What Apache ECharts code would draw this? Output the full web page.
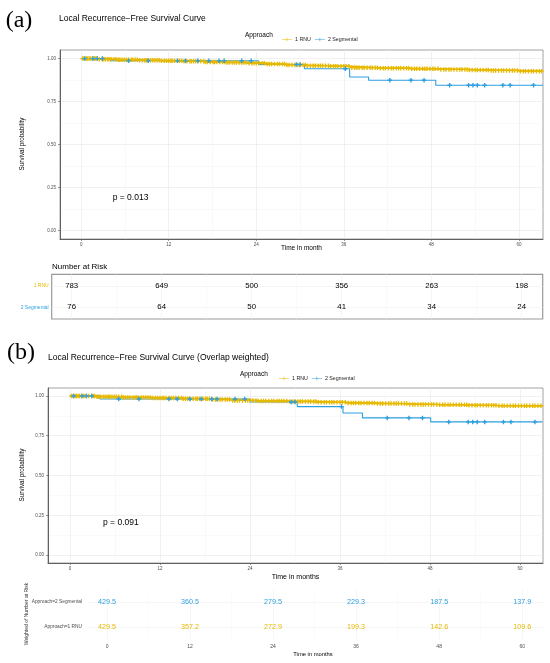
<!DOCTYPE html>
<html>
<head>
<meta charset="utf-8">
<script src="https://cdn.jsdelivr.net/npm/echarts@6/dist/echarts.min.js"></script>
<style>
html,body{margin:0;padding:0;background:#fff;}
#main{width:550px;height:663px;}
</style>
</head>
<body>
<div id="main"></div>
<script>
var months = [0, 12, 24, 36, 48, 60];
var minorMonths = [6, 18, 30, 42, 54];
var probTicks = [0, 0.25, 0.5, 0.75, 1];
var probMinor = [0.125, 0.375, 0.625, 0.875];

// (a) unweighted curves
var rnuTimeA = [0, 2.5, 5, 8, 11, 14, 17, 20, 23, 25.5, 28, 31, 34, 37, 41, 45, 49, 53, 56, 60, 63.3];
var rnuSurvA = [1, 0.996, 0.993, 0.990, 0.987, 0.984, 0.980, 0.977, 0.973, 0.968, 0.963, 0.959, 0.955, 0.947, 0.944, 0.941, 0.937, 0.934, 0.931, 0.927, 0.927];
var segTimeA = [0, 4, 24.3, 30.6, 36.8, 39.4, 48.6, 63.3];
var segSurvA = [1, 0.987, 0.966, 0.941, 0.893, 0.874, 0.845, 0.845];

// (b) overlap weighted curves
var rnuTimeB = [0, 3.6, 7, 11, 15, 19, 21.5, 25, 29, 33, 37, 41, 45, 49, 53, 57, 63];
var rnuSurvB = [1, 0.995, 0.991, 0.987, 0.983, 0.978, 0.972, 0.968, 0.965, 0.960, 0.956, 0.952, 0.947, 0.944, 0.941, 0.938, 0.938];
var segTimeB = [0, 4, 24, 30.3, 36.4, 39, 48.1, 63];
var segSurvB = [1, 0.981, 0.962, 0.933, 0.893, 0.862, 0.837, 0.837];

// censoring times (same patients in both panels)
var rnuCensor = [0.2, 0.4, 0.7, 0.9, 1.1, 1.3, 1.6, 1.8, 2.0, 2.2, 2.5, 2.9, 3.1, 3.3, 3.6, 3.8, 4.1, 4.5, 4.8, 5.1,
  5.3, 5.6, 5.9, 6.2, 6.5, 6.9, 7.1, 7.4, 7.7, 8.0, 8.4, 8.7, 8.9, 9.1, 9.5, 9.8, 10.1, 10.4, 10.7, 11.0,
  11.4, 11.7, 12.0, 12.3, 12.5, 12.8, 13.2, 13.5, 13.8, 14.1, 14.5, 14.9, 15.1, 15.4, 15.7, 16.0, 16.4, 16.8, 17.0, 17.3,
  17.7, 18.1, 18.3, 18.6, 19.0, 19.4, 19.7, 20.0, 20.3, 20.7, 21.0, 21.3, 21.7, 22.0, 22.3, 22.6, 23.0, 23.4, 23.7, 24.0,
  24.4, 24.8, 25.1, 25.5, 25.8, 26.1, 26.5, 26.9, 27.2, 27.6, 27.9, 28.2, 28.5, 28.9, 29.3, 29.7, 30.0, 30.4, 30.7, 31.0,
  31.4, 31.8, 32.1, 32.5, 32.8, 33.1, 33.5, 33.9, 34.2, 34.6, 34.9, 35.2, 35.6, 36.0, 36.3, 36.7, 37.1, 37.5, 37.8, 38.1,
  38.5, 38.8, 39.2, 39.6, 39.9, 40.3, 40.6, 41.0, 41.4, 41.7, 42.1, 42.5, 42.8, 43.2, 43.5, 43.8, 44.2, 44.6, 44.9, 45.3,
  45.7, 46.0, 46.4, 46.8, 47.1, 47.4, 47.8, 48.2, 48.5, 48.9, 49.3, 49.7, 50.0, 50.4, 50.7, 51.1, 51.5, 51.9, 52.2, 52.6,
  52.9, 53.2, 53.6, 54.0, 54.3, 54.7, 55.1, 55.5, 55.8, 56.2, 56.5, 56.8, 57.2, 57.6, 57.9, 58.3, 58.7, 59.1, 59.4, 59.8,
  60.2, 60.6, 60.9, 61.3, 61.7, 62.0, 62.4, 62.8, 63.1];
var segCensor = [0.5, 1.6, 2.2, 2.9, 6.5, 9.2, 13.2, 14.3, 16, 17.5, 18.9, 19.6, 22, 23.3, 29.5, 30.0, 36.2,
  42.3, 45.2, 47, 50.5, 53.1, 53.7, 54.3, 55.3, 57.8, 58.8, 62];

// number at risk
var riskRnu = [783, 649, 500, 356, 263, 198];
var riskSeg = [76, 64, 50, 41, 34, 24];
// weighted number at risk
var wRiskSeg = [429.5, 360.5, 279.5, 229.3, 187.5, 137.9];
var wRiskRnu = [429.5, 357.2, 272.9, 199.3, 142.6, 109.6];

var YEL = '#E7B800', BLU = '#2E9FDF';
var FONT = '"Liberation Sans", Arial, sans-serif';
var plus = 'path://M-0.3,-1H0.3V-0.3H1V0.3H0.3V1H-0.3V0.3H-1V-0.3H-0.3Z';
var legIcon = 'path://M0,4.4H20V5.6H0ZM9.4,1.5H10.6V8.5H9.4Z';

function stepData(t, s) { return t.map(function (v, i) { return [v, s[i]]; }); }
function survAt(t, s, x) {
  var r = s[0];
  for (var i = 0; i < t.length; i++) if (t[i] <= x) r = s[i];
  return r;
}
function censorData(c, t, s) { return c.map(function (x) { return [x, survAt(t, s, x)]; }); }

function majorAxis(grid, min, max, ticks, opts) {
  opts = opts || {};
  return {
    type: 'value', gridIndex: grid, min: min, max: max,
    axisLine: { show: opts.line !== false, onZero: false, lineStyle: { color: '#555', width: 0.9 } },
    axisTick: { show: opts.line !== false, customValues: ticks, length: 2, lineStyle: { color: '#555', width: 0.6 } },
    axisLabel: { show: opts.label !== false, customValues: ticks, fontSize: opts.fs || 4.5, color: '#4d4d4d',
      fontFamily: FONT, margin: opts.margin || 3, formatter: opts.fmt },
    splitLine: { show: true, lineStyle: { color: opts.gridColor || '#e8e8e8', width: 0.6 } }
  };
}
function minorAxis(grid, min, max, ticks, color) {
  return {
    type: 'value', gridIndex: grid, min: min, max: max,
    axisLine: { show: false, onZero: false },
    axisTick: { show: false, customValues: ticks },
    axisLabel: { show: false },
    splitLine: { show: true, lineStyle: { color: color || '#f3f3f3', width: 0.5 } }
  };
}
function curve(name, color, data, xi, yi, w) {
  return { name: name, type: 'line', step: 'end', data: data, xAxisIndex: xi, yAxisIndex: yi,
    showSymbol: false, color: color, lineStyle: { width: w, color: color }, animation: false, z: 2 };
}
function marks(name, color, data, xi, yi) {
  return { name: name, type: 'scatter', data: data, xAxisIndex: xi, yAxisIndex: yi,
    symbol: plus, symbolSize: 4.5, itemStyle: { color: color, opacity: 1 }, animation: false, z: 3 };
}
function riskText(id, vals, row, color, fs, xi, yi) {
  return { id: id, type: 'scatter', xAxisIndex: xi, yAxisIndex: yi, symbolSize: 0,
    itemStyle: { color: color, opacity: 1 }, animation: false, silent: true,
    data: vals.map(function (v, i) { return [months[i], row, v]; }),
    label: { show: true, position: 'inside', color: color, opacity: 1, fontSize: fs, fontFamily: FONT,
      textBorderWidth: 0, textShadowBlur: 0,
      formatter: function (p) { return String(p.value[2]); } } };
}
function txt(x, y, s, size, o) {
  o = o || {};
  return { type: 'text', x: x, y: y, rotation: o.rot || 0, silent: true,
    style: { text: s, fontSize: size, fontFamily: o.ff || FONT, fill: o.color || '#000',
      align: o.align || 'left', verticalAlign: 'middle', textAlign: o.align || 'left', textVerticalAlign: 'middle' } };
}

var rowNamesA = ['2 Segmental', '1 RNU'];
var rowNamesB = ['Approach=1 RNU', 'Approach=2 Segmental'];

var option = {
  animation: false,
  backgroundColor: '#fff',
  grid: [
    { left: 60, top: 50, width: 483, height: 189, show: true, borderColor: '#8a8a8a', borderWidth: 0.8 },
    { left: 51.7, top: 274.3, width: 491, height: 44.7, show: true, borderColor: '#999', borderWidth: 1.2 },
    { left: 48, top: 388, width: 495, height: 175, show: true, borderColor: '#8a8a8a', borderWidth: 0.8 },
    { left: 88, top: 589.5, width: 457, height: 50, show: false }
  ],
  xAxis: [
    majorAxis(0, -2.9, 63.3, months),
    minorAxis(0, -2.9, 63.3, minorMonths),
    majorAxis(1, -2.667, 62.8, months, { line: false, label: false, gridColor: '#efefef' }),
    minorAxis(1, -2.667, 62.8, minorMonths, '#f5f5f5'),
    majorAxis(2, -2.93, 63.07, months),
    minorAxis(2, -2.93, 63.07, minorMonths),
    majorAxis(3, -2.75, 63.3, months, { line: false, fs: 5, margin: 5, gridColor: '#f0f0f0' }),
    minorAxis(3, -2.75, 63.3, minorMonths, '#f6f6f6')
  ],
  yAxis: [
    majorAxis(0, -0.05, 1.05, probTicks, { margin: 4, fmt: function (v) { return v.toFixed(2); } }),
    minorAxis(0, -0.05, 1.05, probMinor),
    (function () {
      var a = majorAxis(1, -0.55, 1.55, [0, 1], { line: false, fs: 5, margin: 3, gridColor: '#efefef',
        fmt: function (v) { return v === 1 ? '{r|' + rowNamesA[1] + '}' : '{s|' + rowNamesA[0] + '}'; } });
      a.axisLabel.rich = { r: { color: YEL, fontSize: 5, fontFamily: FONT }, s: { color: BLU, fontSize: 5, fontFamily: FONT } };
      return a;
    })(),
    majorAxis(2, -0.05, 1.05, probTicks, { margin: 4, fmt: function (v) { return v.toFixed(2); } }),
    minorAxis(2, -0.05, 1.05, probMinor),
    majorAxis(3, -0.5, 1.5, [0, 1], { line: false, fs: 4.8, margin: 6, gridColor: '#f0f0f0',
      fmt: function (v) { return rowNamesB[v]; } })
  ],
  legend: [
    { left: 277, top: 32, itemWidth: 10, itemHeight: 5, itemGap: 4, selectedMode: false,
      textStyle: { fontSize: 5.3, fontFamily: FONT, color: '#222', padding: [0, 0, 0, -2] },
      data: [{ name: '1 RNU', icon: legIcon }, { name: '2 Segmental', icon: legIcon }] },
    { left: 274, top: 371, itemWidth: 10, itemHeight: 5, itemGap: 4, selectedMode: false,
      textStyle: { fontSize: 5.3, fontFamily: FONT, color: '#222', padding: [0, 0, 0, -2] },
      data: [{ name: '1 RNU', icon: legIcon }, { name: '2 Segmental', icon: legIcon }] }
  ],
  series: [
    curve('1 RNU', YEL, stepData(rnuTimeA, rnuSurvA), 0, 0, 1.4),
    curve('2 Segmental', BLU, stepData(segTimeA, segSurvA), 0, 0, 1.1),
    marks('1 RNU', YEL, censorData(rnuCensor, rnuTimeA, rnuSurvA), 0, 0),
    marks('2 Segmental', BLU, censorData(segCensor, segTimeA, segSurvA), 0, 0),
    curve('1 RNU', YEL, stepData(rnuTimeB, rnuSurvB), 4, 3, 1.4),
    curve('2 Segmental', BLU, stepData(segTimeB, segSurvB), 4, 3, 1.1),
    marks('1 RNU', YEL, censorData(rnuCensor, rnuTimeB, rnuSurvB), 4, 3),
    marks('2 Segmental', BLU, censorData(segCensor, segTimeB, segSurvB), 4, 3),
    riskText('riskRnu', riskRnu, 1, '#000', 7.8, 2, 2),
    riskText('riskSeg', riskSeg, 0, '#000', 7.8, 2, 2),
    riskText('wRiskSeg', wRiskSeg, 1, BLU, 7.2, 6, 5),
    riskText('wRiskRnu', wRiskRnu, 0, YEL, 7.2, 6, 5)
  ],
  graphic: [
    txt(19, 21, '(a)', 24, { ff: '"Liberation Serif", serif', align: 'center' }),
    txt(59, 18.5, 'Local Recurrence\u2212Free Survival Curve', 8.5),
    txt(245, 35, 'Approach', 6.5),
    txt(22, 144, 'Survival probability', 6.3, { rot: Math.PI / 2, align: 'center' }),
    txt(301.5, 248, 'Time in month', 6.5, { align: 'center' }),
    txt(112.7, 198, 'p = 0.013', 8.5),
    txt(52, 267, 'Number at Risk', 8),
    txt(21, 353, '(b)', 24, { ff: '"Liberation Serif", serif', align: 'center' }),
    txt(48, 357.5, 'Local Recurrence\u2212Free Survival Curve (Overlap weighted)', 8.5),
    txt(240, 374, 'Approach', 6.5),
    txt(22, 475, 'Survival probability', 6.3, { rot: Math.PI / 2, align: 'center' }),
    txt(295.5, 577, 'Time in months', 7, { align: 'center' }),
    txt(103, 523, 'p = 0.091', 8.5),
    txt(27, 614, 'Weighted of Number at Risk', 5, { rot: Math.PI / 2, align: 'center', color: '#333' }),
    txt(313, 654, 'Time in months', 5.8, { align: 'center' })
  ]
};

var chart = echarts.init(document.getElementById('main'));
chart.setOption(option);
</script>
</body>
</html>
